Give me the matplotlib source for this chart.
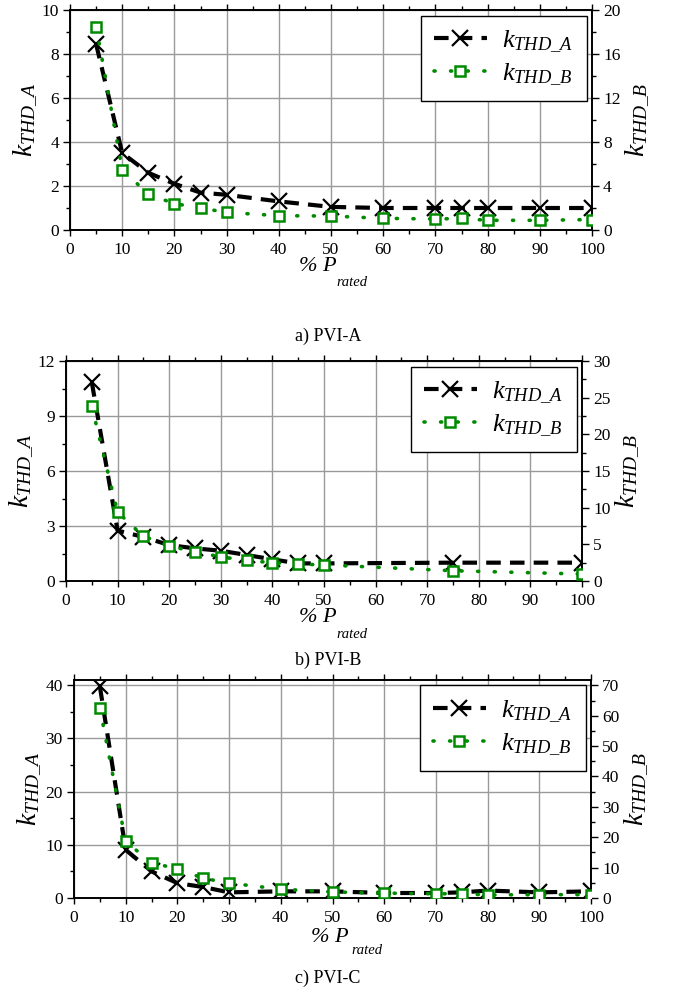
import matplotlib
matplotlib.use("Agg")
import matplotlib.pyplot as plt
from matplotlib.ticker import MultipleLocator

plt.rcParams['font.family'] = ['Liberation Serif', 'DejaVu Serif']
plt.rcParams['mathtext.fontset'] = 'custom'
plt.rcParams['mathtext.rm'] = 'Liberation Serif'
plt.rcParams['mathtext.it'] = 'Liberation Serif:italic'

# ---------------- data ----------------
# Panel a) PVI-A
xa_A = [5, 10, 15, 20, 25, 30, 40, 50, 60, 70, 75, 80, 90, 100]
ya_A = [8.45, 3.5, 2.6, 2.1, 1.7, 1.6, 1.3, 1.05, 1.0, 1.0, 1.0, 1.0, 1.0, 1.0]
xa_B = [5, 10, 15, 20, 25, 30, 40, 50, 60, 70, 75, 80, 90, 100]
ya_B = [18.5, 5.5, 3.25, 2.4, 2.0, 1.6, 1.3, 1.27, 1.06, 1.0, 1.05, 0.88, 0.88, 0.95]

# Panel b) PVI-B
xb_A = [5, 10, 15, 20, 25, 30, 35, 40, 45, 50, 75, 100]
yb_A = [10.84, 2.75, 2.4, 1.96, 1.78, 1.65, 1.42, 1.18, 0.96, 0.96, 1.0, 1.0]
xb_B = [5, 10, 15, 20, 25, 30, 35, 40, 45, 50, 75, 100]
yb_B = [23.8, 9.4, 6.1, 4.8, 3.95, 3.3, 2.8, 2.5, 2.3, 2.2, 1.4, 0.95]

# Panel c) PVI-C
xc_A = [5, 10, 15, 20, 25, 30, 40, 50, 60, 70, 75, 80, 90, 100]
yc_A = [39.8, 9.06, 5.0, 2.8, 2.06, 1.06, 1.25, 1.25, 0.94, 0.94, 1.06, 1.4, 1.06, 1.25]
xc_B = [5, 10, 15, 20, 25, 30, 40, 50, 60, 70, 75, 80, 90, 100]
yc_B = [62.5, 18.6, 11.6, 9.6, 6.5, 4.9, 2.9, 2.0, 1.6, 1.4, 1.4, 1.0, 1.1, 1.1]

captions = ["a) PVI-A", "b) PVI-B", "c) PVI-C"]
label_A = r'$k_{THD\_A}$'
label_B = r'$k_{THD\_B}$'

W, H = 676, 989
fig = plt.figure(figsize=(W / 100, H / 100), dpi=100)

GREEN = '#008a00'

def px_axes(x0, x1, y0, y1):
    return fig.add_axes([x0 / W, 1 - y1 / H, (x1 - x0) / W, (y1 - y0) / H])

panels = [
    dict(box=(70, 592, 10, 230), xA=xa_A, yA=ya_A, xB=xa_B, yB=ya_B,
         lim1=(0, 10), maj1=2, min1=1, lim2=(0, 20), maj2=4, min2=2,
         cap=(328, 336), pP=(318, 267), rated=(352, 282)),
    dict(box=(66, 582, 361, 581), xA=xb_A, yA=yb_A, xB=xb_B, yB=yb_B,
         lim1=(0, 12), maj1=3, min1=1.5, lim2=(0, 30), maj2=5, min2=2.5,
         cap=(328, 660), pP=(318, 617), rated=(352, 634)),
    dict(box=(74, 591, 680, 898), xA=xc_A, yA=yc_A, xB=xc_B, yB=yc_B,
         lim1=(0, 41), maj1=10, min1=5, lim2=(0, 71.75), maj2=10, min2=5,
         cap=(328, 978), pP=(330, 937), rated=(367, 951)),
]

for i, p in enumerate(panels):
    x0, x1, y0, y1 = p['box']
    ax = px_axes(x0, x1, y0, y1)
    ax2 = ax.twinx()
    ax.set_xlim(0, 100)
    ax.set_ylim(*p['lim1'])
    ax2.set_ylim(*p['lim2'])
    ax.xaxis.set_major_locator(MultipleLocator(10))
    ax.xaxis.set_minor_locator(MultipleLocator(5))
    ax.yaxis.set_major_locator(MultipleLocator(p['maj1']))
    ax.yaxis.set_minor_locator(MultipleLocator(p['min1']))
    ax2.yaxis.set_major_locator(MultipleLocator(p['maj2']))
    ax2.yaxis.set_minor_locator(MultipleLocator(p['min2']))
    ax.grid(True, which='major', color='#9a9a9a', linewidth=1.0)
    ax.set_axisbelow(True)
    ax.tick_params(axis='y', which='major', labelsize=12.5, direction='out',
                   length=5, width=1, pad=3)
    ax.tick_params(axis='x', which='major', labelsize=12.5, direction='out',
                   length=4, width=1, pad=4.5)
    ax.tick_params(axis='x', which='minor', direction='out', length=3, width=1)
    ax.tick_params(axis='y', which='minor', direction='out', length=3, width=1)
    ax.tick_params(axis='x', which='both', top=True)
    ax2.tick_params(axis='y', which='major', labelsize=12.5, direction='out',
                    length=5, width=1, pad=3)
    ax2.tick_params(axis='y', which='minor', direction='out', length=3, width=1)
    for a in (ax, ax2):
        for s in a.spines.values():
            s.set_linewidth(1.2)

    lA, = ax.plot(p['xA'], p['yA'], color='black', linewidth=3.0,
                  dashes=(3.5, 2.2), marker='x', markersize=11,
                  markeredgewidth=1.6, markeredgecolor='black', zorder=3)
    lB, = ax2.plot(p['xB'], p['yB'], color=GREEN, linewidth=2.6,
                   dashes=(0.3, 4.3), dash_capstyle='round', marker='s',
                   markersize=7, markerfacecolor='white',
                   markeredgecolor=GREEN, markeredgewidth=1.8, zorder=3)

    ax.set_ylabel(label_A, fontsize=20, labelpad=2)
    ax2.set_ylabel(label_B, fontsize=20, labelpad=2, rotation=90)

    leg = ax2.legend([lA, lB], [label_A, label_B], loc='upper right',
                     bbox_to_anchor=(0.99, 0.975), fontsize=19, frameon=True,
                     fancybox=False, framealpha=1, edgecolor='black',
                     handlelength=2.0, handletextpad=0.6, borderpad=0.5,
                     labelspacing=0.25, borderaxespad=0)
    leg.get_frame().set_linewidth(1.0)

    fig.text(p['pP'][0] / W, 1 - p['pP'][1] / H, r'% $P$', fontsize=16,
             style='italic', ha='center', va='center')
    fig.text(p['rated'][0] / W, 1 - p['rated'][1] / H, 'rated', fontsize=10.5,
             style='italic', ha='center', va='center')
    fig.text(p['cap'][0] / W, 1 - p['cap'][1] / H, captions[i], fontsize=13,
             ha='center', va='center')

fig.savefig('out.png', dpi=100)
